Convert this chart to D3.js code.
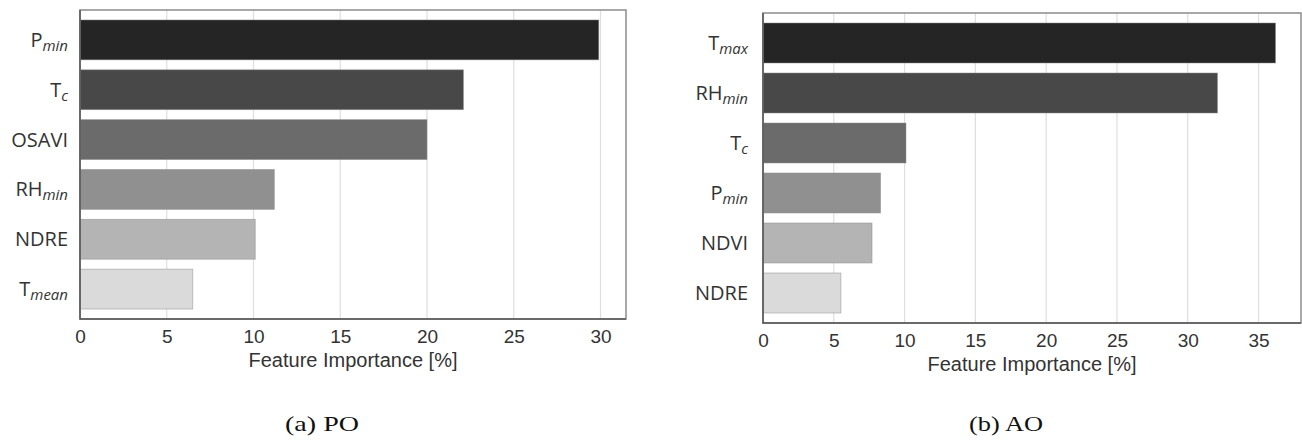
<!DOCTYPE html>
<html>
<head>
<meta charset="utf-8">
<script src="https://cdn.jsdelivr.net/npm/d3@7"></script>
<style>
  body { margin: 0; background: #fff; }
  svg { display: block; }
</style>
</head>
<body>
<div id="chart"></div>
<script>
// data
var poFeatures = ["P_min", "T_c", "OSAVI", "RH_min", "NDRE", "T_mean"];
var poValues = [29.9, 22.1, 20.0, 11.2, 10.1, 6.5];
var aoFeatures = ["T_max", "RH_min", "T_c", "P_min", "NDVI", "NDRE"];
var aoValues = [36.2, 32.1, 10.1, 8.3, 7.7, 5.5];
var poTicks = [0, 5, 10, 15, 20, 25, 30];
var aoTicks = [0, 5, 10, 15, 20, 25, 30, 35];
var greys = ["#252525", "#484848", "#6b6b6b", "#909090", "#b4b4b4", "#dadada"];

var W = 1302, H = 440;
var svg = d3.select("#chart").append("svg")
  .attr("width", W)
  .attr("height", H);

function drawPanel(names, vals, ticks, xmax, box, labGap, caption, capX) {
  var x = d3.scaleLinear().domain([0, xmax]).range([box.x0, box.x1]);
  var y = d3.scaleBand().domain(names).range([box.y0, box.y1]).padding(0.2);
  var g = svg.append("g");

  // vertical grid
  g.selectAll(".grid").data(ticks.slice(1)).enter().append("line")
    .attr("x1", function (d) { return x(d); })
    .attr("x2", function (d) { return x(d); })
    .attr("y1", box.y0)
    .attr("y2", box.y1)
    .attr("stroke", "#dedede")
    .attr("stroke-width", 1.2);

  g.selectAll(".bar").data(names).enter().append("rect")
    .attr("x", x(0))
    .attr("y", function (d) { return y(d); })
    .attr("width", function (d, i) { return x(vals[i]) - x(0); })
    .attr("height", y.bandwidth())
    .attr("fill", function (d, i) { return greys[i]; })
    .attr("stroke", "#8a8a8a")
    .attr("stroke-opacity", 0.6)
    .attr("stroke-width", 0.8);

  // frame
  g.append("rect")
    .attr("x", box.x0).attr("y", box.y0)
    .attr("width", box.x1 - box.x0).attr("height", box.y1 - box.y0)
    .attr("fill", "none")
    .attr("stroke", "#8c8c8c")
    .attr("stroke-width", 1.5);
  g.append("path")
    .attr("d", "M" + box.x0 + "," + box.y0 + "V" + box.y1 + "H" + box.x1)
    .attr("fill", "none")
    .attr("stroke", "#555")
    .attr("stroke-width", 1.5);

  // x axis (labels only, no tick marks)
  var ax = g.append("g")
    .attr("transform", "translate(0," + box.y1 + ")")
    .call(d3.axisBottom(x).tickValues(ticks).tickSize(0).tickPadding(10));
  ax.select(".domain").remove();
  ax.selectAll("text")
    .attr("fill", "#333")
    .attr("dy", "0.72em")
    .style("font-family", "'Liberation Sans', Arial, sans-serif")
    .style("font-size", "19px");

  g.append("text")
    .attr("x", (box.x0 + box.x1) / 2)
    .attr("y", box.y1 + 48)
    .attr("text-anchor", "middle")
    .attr("fill", "#333")
    .style("font-family", "'Liberation Sans', Arial, sans-serif")
    .style("font-size", "20px")
    .text("Feature Importance [%]");

  // y labels with italic subscripts
  var lab = g.selectAll(".ylab").data(names).enter().append("text")
    .attr("x", box.x0 - labGap)
    .attr("y", function (d) { return y(d) + y.bandwidth() / 2 + 7; })
    .attr("text-anchor", "end")
    .attr("fill", "#333")
    .style("font-family", "'Open Sans', sans-serif")
    .style("font-size", "20px");
  lab.each(function (d) {
    var parts = d.split("_");
    var t = d3.select(this);
    t.append("tspan").text(parts[0]);
    if (parts[1]) {
      t.append("tspan")
        .attr("dy", 4)
        .style("font-style", "italic")
        .style("font-size", "15px")
        .text(parts[1]);
    }
  });

  // subfigure caption, glyphs are stretched wide in the source
  svg.append("text")
    .attr("x", capX)
    .attr("y", 431)
    .attr("text-anchor", "middle")
    .attr("fill", "#111")
    .style("font-family", "'Liberation Serif', 'Times New Roman', serif")
    .style("font-size", "22px")
    .attr("textLength", 74)
    .attr("lengthAdjust", "spacingAndGlyphs")
    .text(caption);
}

drawPanel(poFeatures, poValues, poTicks, 31.47,
  {x0: 80, x1: 626, y0: 10, y1: 319}, 12, "(a)  PO", 322);
drawPanel(aoFeatures, aoValues, aoTicks, 38.0,
  {x0: 763, x1: 1301, y0: 13, y1: 323}, 15, "(b)  AO", 1006);
</script>
</body>
</html>
